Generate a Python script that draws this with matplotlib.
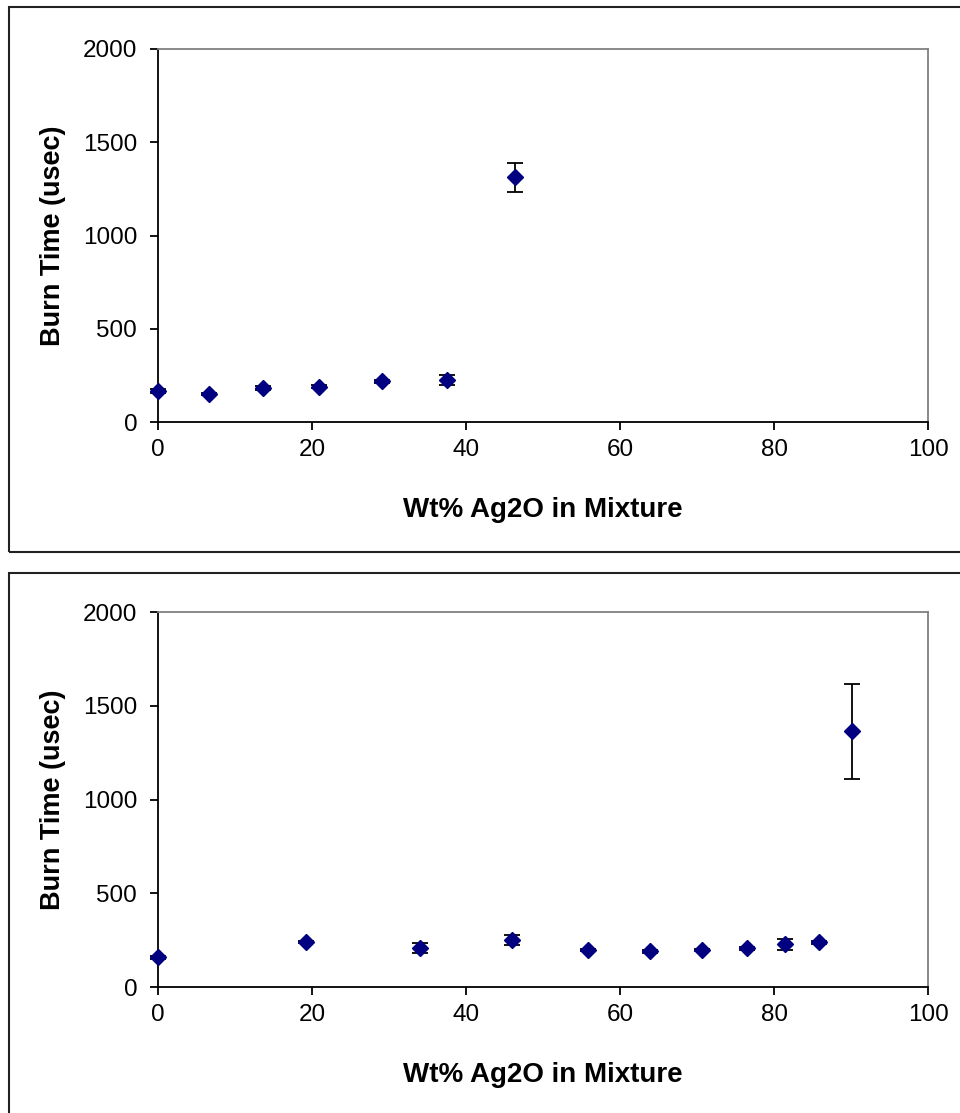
"""Burn time vs Ag2O content, two panels."""
import matplotlib as mpl
import matplotlib.pyplot as plt
from matplotlib.patches import Rectangle

NAVY = "#000080"
GREY = "#808080"

mpl.rcParams.update(
    {
        "font.family": "sans-serif",
        "font.sans-serif": ["Liberation Sans", "Arial", "DejaVu Sans"],
        "font.size": 17,
    }
)

# top panel
wt_top = [0.0, 6.6, 13.6, 20.9, 29.1, 37.5, 46.4]
burn_top = [166, 150, 182, 188, 220, 225, 1313]
err_top = [10, 6, 12, 8, 8, 27, 78]

# bottom panel
wt_bot = [0.0, 19.2, 34.0, 46.0, 55.8, 63.9, 70.6, 76.5, 81.4, 85.8, 90.1]
burn_bot = [160, 240, 208, 250, 197, 192, 197, 208, 229, 240, 1365]
err_bot = [8, 6, 29, 25, 6, 8, 6, 8, 29, 8, 253]

XTICKS = [0, 20, 40, 60, 80, 100]
YTICKS = [0, 500, 1000, 1500, 2000]


def panel(fig, rect, x, y, err):
    ax = fig.add_axes(rect)
    ax.errorbar(
        x, y, yerr=err, fmt="D", color=NAVY, markersize=8.5,
        ecolor="black", elinewidth=1.3, capsize=5.5, capthick=1.3,
        clip_on=False, zorder=3,
    )
    ax.set_xlim(0, 100)
    ax.set_ylim(0, 2000)
    ax.set_xticks(XTICKS)
    ax.set_yticks(YTICKS)
    for side in ("top", "right"):
        ax.spines[side].set_color(GREY)
        ax.spines[side].set_linewidth(1.3)
    for side in ("left", "bottom"):
        ax.spines[side].set_color("black")
        ax.spines[side].set_linewidth(1.3)
    ax.tick_params(direction="out", length=6, width=1.3, labelsize=17.5)
    ax.tick_params(axis="x", pad=6)
    ax.tick_params(axis="y", pad=9)
    ax.set_xlabel("Wt% Ag2O in Mixture", fontweight="bold", fontsize=20, labelpad=26)
    ax.set_ylabel("Burn Time (usec)", fontweight="bold", fontsize=19.5, labelpad=12)
    return ax


fig = plt.figure(figsize=(9.6, 11.13), dpi=100)
fig.patches.append(Rectangle((0.0094, 0.504), 1.2, 0.4897, transform=fig.transFigure,
                             fill=False, edgecolor="#222222", linewidth=1.5))
fig.patches.append(Rectangle((0.0094, -0.1), 1.2, 0.5852, transform=fig.transFigure,
                             fill=False, edgecolor="#222222", linewidth=1.5))

panel(fig, [0.1646, 0.6208, 0.8021, 0.3352], wt_top, burn_top, err_top)
panel(fig, [0.1646, 0.1132, 0.8021, 0.3369], wt_bot, burn_bot, err_bot)

fig.savefig("out.png", dpi=100)
